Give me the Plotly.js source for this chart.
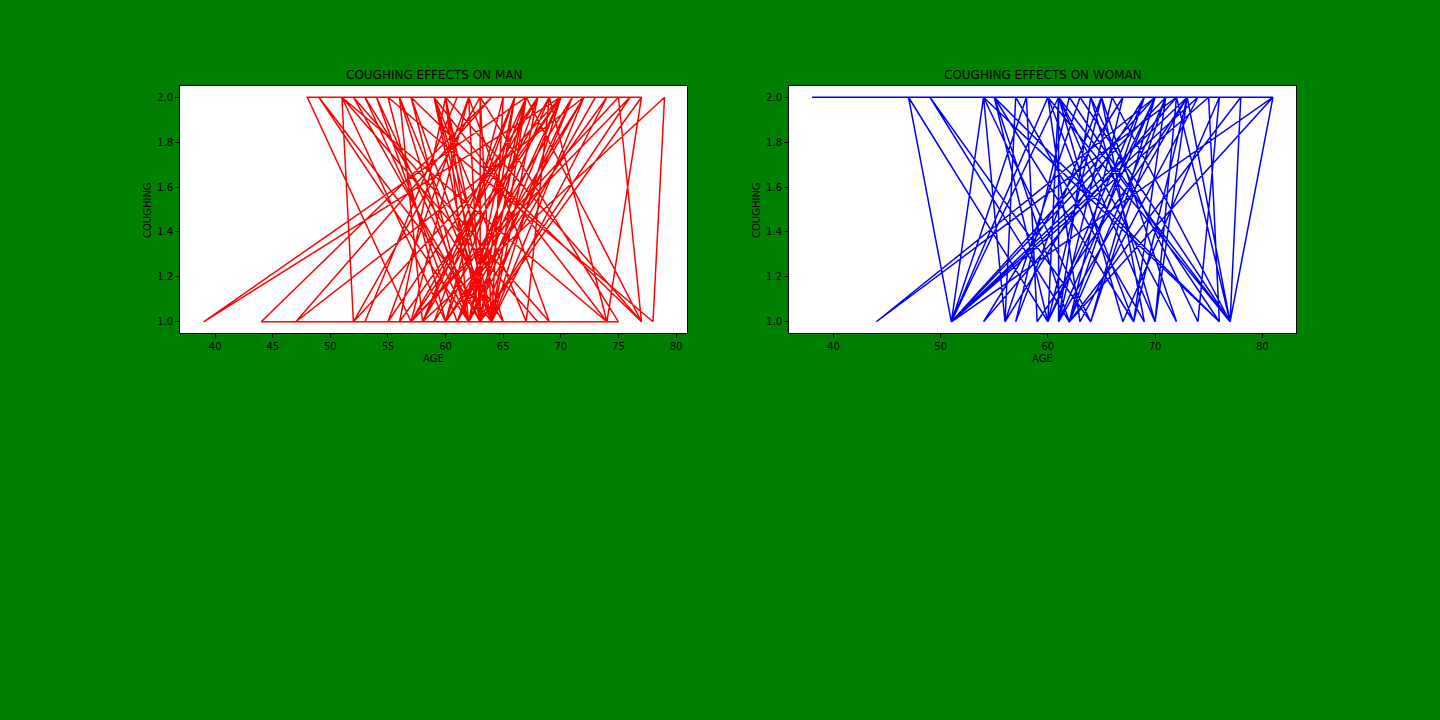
<!DOCTYPE html>
<html>
<head>
<meta charset="utf-8">
<script src="https://cdn.plot.ly/plotly-3.0.1.min.js"></script>
<style>
  html, body { margin: 0; padding: 0; background: #008000; }
  #chart { width: 1440px; height: 720px; }
</style>
</head>
<body>
<div id="chart"></div>
<script>
// Ages and coughing level (1 = no, 2 = yes), in dataset order
const manAge = [69, 74, 59, 63, 63, 75, 52, 51, 68, 53, 61, 72, 60, 58, 69, 48, 57, 68, 61, 44,
    64, 77, 63, 60, 62, 73, 56, 64, 67, 39, 70, 62, 57, 77, 67, 62, 53, 65, 59, 63,
    71, 64, 47, 72, 60, 55, 78, 79, 58, 66, 62, 49, 64, 70, 56, 60, 63, 76, 57, 62,
    69, 52, 63, 67, 60, 74, 64, 57, 62, 71, 59, 66, 63, 54, 61, 70, 57, 75, 77, 60,
    64, 68, 55, 62, 63, 67, 58, 56, 62, 70, 52, 63, 64, 59, 67, 69, 61, 72, 64, 65,
    60, 51, 74, 77]
const manCough = [2, 1, 2, 1, 2, 1, 1, 2, 1, 1, 2, 2, 1, 1, 2, 2, 1, 2, 1, 1,
    2, 2, 1, 2, 1, 2, 2, 1, 2, 1, 2, 1, 2, 1, 2, 1, 2, 1, 2, 1,
    2, 2, 1, 2, 1, 2, 1, 2, 1, 2, 1, 2, 1, 2, 1, 2, 1, 2, 1, 2,
    1, 2, 1, 2, 1, 2, 1, 2, 1, 2, 1, 2, 1, 2, 1, 2, 1, 2, 1, 2,
    1, 2, 1, 2, 1, 2, 1, 2, 1, 2, 1, 2, 1, 2, 1, 2, 1, 2, 1, 2,
    1, 2, 1, 2]

const womanAge = [38, 81, 51, 70, 44, 72, 77, 61, 60, 47, 51, 54, 56, 69, 62, 49, 64, 71, 51, 61,
    61, 66, 77, 81, 62, 55, 68, 73, 59, 58, 51, 75, 76, 54, 64, 70, 60, 65, 69, 57,
    56, 63, 77, 61, 70, 72, 54, 67, 62, 78, 77, 60, 63, 74, 51, 47, 51, 70, 61, 64,
    74, 76, 67, 61, 72, 65, 57, 62, 76, 55, 60, 69, 62, 71, 68, 60, 51, 73, 61, 64,
    70, 73, 77]
const womanCough = [2, 2, 1, 2, 1, 2, 1, 2, 1, 2, 1, 2, 1, 2, 1, 2, 1, 2, 1, 2,
    1, 2, 1, 2, 1, 2, 1, 2, 1, 2, 1, 2, 1, 2, 1, 2, 1, 2, 1, 2,
    1, 2, 1, 2, 1, 2, 1, 2, 1, 2, 1, 2, 1, 2, 1, 2, 1, 2, 1, 2,
    1, 2, 1, 2, 1, 2, 1, 2, 1, 2, 1, 2, 1, 2, 1, 2, 1, 2, 1, 2,
    1, 2, 1]

const font = {family: "DejaVu Sans", size: 10, color: "#000"}
const titleFont = {family: "DejaVu Sans", size: 12, color: "#000"}

function makeAxis(domain, range, dtick, anchor, fmt) {
    return {
        domain: domain,
        range: range,
        dtick: dtick,
        tick0: 0,
        anchor: anchor,
        tickformat: fmt,
        showgrid: false,
        zeroline: false,
        showline: true,
        mirror: true,
        linecolor: "#000",
        linewidth: 1,
        ticks: "outside",
        ticklen: 4,
        tickwidth: 1,
        tickcolor: "#000",
        tickfont: font
    }
}

function label(text, px, py, f, angle) {
    return {
        text: text, x: px / 1440, y: 1 - py / 720, xref: "paper", yref: "paper",
        xanchor: "center", yanchor: "middle", textangle: angle || 0,
        showarrow: false, font: f
    }
}

const yDomain = [1 - 333 / 720, 1 - 86 / 720]

const traces = [
    {
        x: manAge, y: manCough, type: "scatter", mode: "lines",
        line: {color: "#ff0000", width: 1.5}, xaxis: "x", yaxis: "y", showlegend: false
    },
    {
        x: womanAge, y: womanCough, type: "scatter", mode: "lines",
        line: {color: "#0000ff", width: 1.5}, xaxis: "x2", yaxis: "y2", showlegend: false
    }
]

const layout = {
    width: 1440,
    height: 720,
    margin: {l: 0, r: 0, t: 0, b: 0},
    paper_bgcolor: "#008000",
    plot_bgcolor: "#ffffff",
    font: font,
    showlegend: false,
    xaxis: makeAxis([180 / 1440, 687 / 1440], [36.95, 80.95], 5, "y", "d"),
    yaxis: makeAxis(yDomain, [0.95, 2.05], 0.2, "x", ".1f"),
    xaxis2: makeAxis([789 / 1440, 1296 / 1440], [35.85, 83.15], 10, "y2", "d"),
    yaxis2: makeAxis(yDomain, [0.95, 2.05], 0.2, "x2", ".1f"),
    annotations: [
        label("COUGHING EFFECTS ON MAN", 433.5, 75, titleFont),
        label("COUGHING EFFECTS ON WOMAN", 1042.5, 75, titleFont),
        label("AGE", 433.5, 358, font),
        label("AGE", 1042.5, 358, font),
        label("COUGHING", 147, 210, font, -90),
        label("COUGHING", 756, 210, font, -90)
    ]
}

Plotly.newPlot("chart", traces, layout, {staticPlot: true})
</script>
</body>
</html>
